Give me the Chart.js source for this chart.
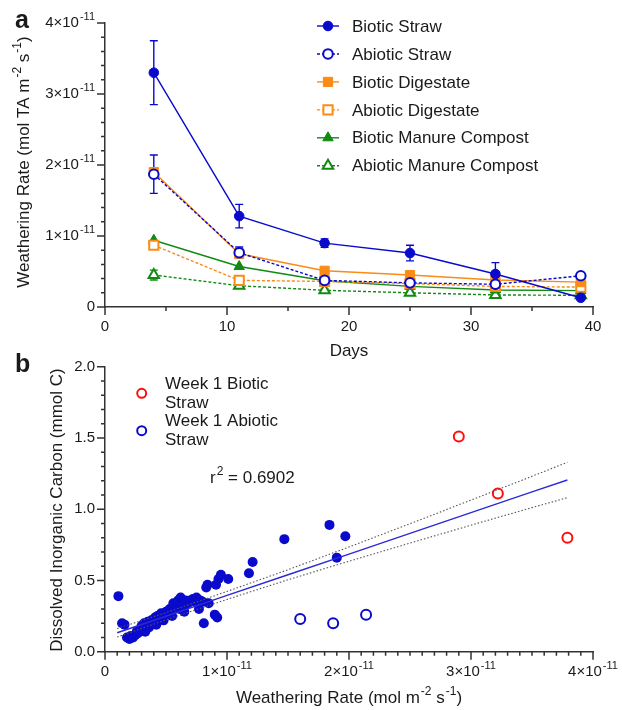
<!DOCTYPE html>
<html>
<head>
<meta charset="utf-8">
<script src="https://cdn.jsdelivr.net/npm/chart.js@4.4.1/dist/chart.umd.min.js"></script>
<style>
    html, body { margin: 0; padding: 0; background: #fff; }
    #wrap { position: relative; width: 622px; height: 710px; overflow: hidden; }
    #topWrap { position: absolute; left: 0; top: 0; width: 622px; height: 365px; }
    #botWrap { position: absolute; left: 0; top: 335px; width: 622px; height: 375px; }
</style>
</head>
<body>
<div id="wrap">
    <div id="topWrap"><canvas id="rateChart"></canvas></div>
    <div id="botWrap"><canvas id="dicChart"></canvas></div>
</div>
<script>
// ---- Panel a: weathering rate over time (values in units of 1e-11 mol TA m-2 s-1) ----
const days = [4, 11, 18, 25, 32, 39];
const bioticStraw = [3.30, 1.28, 0.90, 0.76, 0.465, 0.13];
const bioticStrawErr = [0.45, 0.165, 0.06, 0.11, 0.16, 0.03];
const abioticStraw = [1.87, 0.765, 0.375, 0.34, 0.32, 0.44];
const abioticStrawErr = [0.27, 0.08, 0.04, 0.03, 0.03, 0.03];
const bioticDigestate = [1.90, 0.75, 0.51, 0.45, 0.38, 0.35];
const abioticDigestate = [0.87, 0.375, 0.36, 0.33, 0.29, 0.28];
const bioticManure = [0.94, 0.57, 0.37, 0.29, 0.24, 0.23];
const abioticManure = [0.45, 0.30, 0.235, 0.20, 0.17, 0.165];
const abioticManureErr = [0.07, 0.03, 0.02, 0.02, 0.02, 0.02];

const rateYTicks = [0, 1, 2, 3, 4];
const rateYTickLabels = ['0', '1×10^{-11}', '2×10^{-11}', '3×10^{-11}', '4×10^{-11}'];
const dayTicks = [0, 10, 20, 30, 40];
const dayTickLabels = ['0', '10', '20', '30', '40'];

// ---- Panel b: DIC vs weathering rate (x in units of 1e-11 mol m-2 s-1) ----
const otherX = [0.11, 0.14, 0.16, 0.18, 0.20, 0.21, 0.23, 0.25, 0.26, 0.27, 0.28, 0.30, 0.31, 0.32, 0.33,
    0.34, 0.35, 0.36, 0.37, 0.38, 0.40, 0.41, 0.42, 0.43, 0.44, 0.46, 0.47, 0.48, 0.50, 0.51, 0.53, 0.54,
    0.55, 0.56, 0.58, 0.60, 0.61, 0.62, 0.64, 0.65, 0.66, 0.68, 0.70, 0.72, 0.74, 0.75, 0.77, 0.78, 0.80,
    0.81, 0.83, 0.84, 0.85, 0.90, 0.91, 0.92, 0.93, 0.95, 1.01, 1.18, 1.21, 1.47, 1.84, 1.90, 1.97];
const otherY = [0.39, 0.20, 0.19, 0.10, 0.09, 0.11, 0.10, 0.12, 0.14, 0.13, 0.15, 0.18, 0.16, 0.20, 0.14,
    0.19, 0.21, 0.17, 0.20, 0.22, 0.21, 0.24, 0.19, 0.25, 0.22, 0.27, 0.24, 0.22, 0.28, 0.26, 0.30, 0.27,
    0.25, 0.34, 0.32, 0.36, 0.30, 0.38, 0.33, 0.28, 0.36, 0.34, 0.36, 0.37, 0.35, 0.38, 0.30, 0.36, 0.35,
    0.20, 0.45, 0.47, 0.34, 0.26, 0.47, 0.24, 0.51, 0.54, 0.51, 0.55, 0.63, 0.79, 0.89, 0.66, 0.81];
const week1BioticX = [2.90, 3.22, 3.79];
const week1BioticY = [1.51, 1.11, 0.80];
const week1AbioticX = [1.60, 1.87, 2.14];
const week1AbioticY = [0.23, 0.20, 0.26];

const fitX = [0.1, 0.5, 1.0, 1.5, 2.0, 2.5, 3.0, 3.5, 3.79];
const fitY = [0.133, 0.249, 0.395, 0.540, 0.685, 0.830, 0.976, 1.121, 1.205];
const fitUpper = [0.163, 0.274, 0.423, 0.575, 0.735, 0.898, 1.064, 1.231, 1.329];
const fitLower = [0.103, 0.224, 0.367, 0.505, 0.635, 0.762, 0.888, 1.011, 1.081];

const dicYTicks = [0, 0.5, 1.0, 1.5, 2.0];
const dicYTickLabels = ['0.0', '0.5', '1.0', '1.5', '2.0'];
const rateXTicks = [0, 1, 2, 3, 4];
const rateXTickLabels = ['0', '1×10^{-11}', '2×10^{-11}', '3×10^{-11}', '4×10^{-11}'];

const FONT = 'Arial, "Liberation Sans", sans-serif';
const TEXT = '#1a1a1a';
const AXIS = '#333';
const BLUE = '#0a0acc';
const ORANGE = '#fa8c16';
const GREEN = '#128a12';
const RED = '#ff0d0d';

Chart.defaults.font.family = FONT;

// Draw text where ^{...} parts are superscripts
function drawRich(ctx, str, x, y, size, align) {
    const parts = [];
    const re = /\^\{([^}]*)\}/g;
    let last = 0, m;
    while ((m = re.exec(str)) !== null) {
        if (m.index > last) parts.push({ t: str.slice(last, m.index), sup: false });
        parts.push({ t: m[1], sup: true });
        last = re.lastIndex;
    }
    if (last < str.length) parts.push({ t: str.slice(last), sup: false });

    const supSize = Math.round(size * 0.7);
    let total = 0;
    parts.forEach(p => {
        ctx.font = (p.sup ? supSize : size) + 'px ' + FONT;
        p.w = ctx.measureText(p.t).width + (p.sup ? 1 : 0);
        total += p.w;
    });
    let cx = x;
    if (align === 'center') cx = x - total / 2;
    if (align === 'right') cx = x - total;
    ctx.textBaseline = 'middle';
    ctx.textAlign = 'left';
    parts.forEach(p => {
        ctx.font = (p.sup ? supSize : size) + 'px ' + FONT;
        ctx.fillText(p.t, cx + (p.sup ? 1 : 0), p.sup ? y - size * 0.38 : y);
        cx += p.w;
    });
}

// Axis ticks, tick labels and titles drawn through the chart scales
const axisDecor = {
    id: 'axisDecor',
    afterDraw(chart, args, o) {
        const ctx = chart.ctx;
        const xs = chart.scales.x, ys = chart.scales.y;
        const area = chart.chartArea;
        ctx.save();
        ctx.strokeStyle = AXIS;
        ctx.lineWidth = 1.5;
        ctx.beginPath();
        o.yMinor.forEach(v => { const p = ys.getPixelForValue(v); ctx.moveTo(area.left - 4, p); ctx.lineTo(area.left, p); });
        o.yMajor.forEach(v => { const p = ys.getPixelForValue(v); ctx.moveTo(area.left - 8, p); ctx.lineTo(area.left, p); });
        o.xMinor.forEach(v => { const p = xs.getPixelForValue(v); ctx.moveTo(p, area.bottom); ctx.lineTo(p, area.bottom + 4); });
        o.xMajor.forEach(v => { const p = xs.getPixelForValue(v); ctx.moveTo(p, area.bottom); ctx.lineTo(p, area.bottom + 8); });
        ctx.stroke();

        ctx.fillStyle = TEXT;
        o.yMajor.forEach((v, i) => drawRich(ctx, o.yLabels[i], area.left - 10, ys.getPixelForValue(v), 15, 'right'));
        o.xMajor.forEach((v, i) => drawRich(ctx, o.xLabels[i], xs.getPixelForValue(v), area.bottom + 20, 15, 'center'));

        drawRich(ctx, o.xTitle, (area.left + area.right) / 2, o.xTitleY, 17, 'center');
        ctx.save();
        ctx.translate(o.yTitleX, o.yTitleY);
        ctx.rotate(-Math.PI / 2);
        drawRich(ctx, o.yTitle, 0, 0, 17, 'center');
        ctx.restore();

        ctx.font = 'bold 25px ' + FONT;
        ctx.textBaseline = 'alphabetic';
        ctx.fillText(o.panel, 15, o.panelY);
        ctx.restore();
    }
};

// Error bars for panel a
const errorBars = {
    id: 'errorBars',
    beforeDatasetsDraw(chart) {
        const ctx = chart.ctx;
        ctx.save();
        chart.data.datasets.forEach(ds => {
            if (!ds.errors) return;
            ctx.strokeStyle = ds.borderColor;
            ctx.lineWidth = 1.4;
            ctx.setLineDash([]);
            ds.data.forEach((pt, i) => {
                const x = chart.scales.x.getPixelForValue(pt.x);
                const y1 = chart.scales.y.getPixelForValue(pt.y + ds.errors[i]);
                const y2 = chart.scales.y.getPixelForValue(pt.y - ds.errors[i]);
                ctx.beginPath();
                ctx.moveTo(x, y1); ctx.lineTo(x, y2);
                ctx.moveTo(x - 4, y1); ctx.lineTo(x + 4, y1);
                ctx.moveTo(x - 4, y2); ctx.lineTo(x + 4, y2);
                ctx.stroke();
            });
        });
        ctx.restore();
    }
};

// Legend with line sample and marker for panel a
const lineLegend = {
    id: 'lineLegend',
    afterDraw(chart) {
        const ctx = chart.ctx;
        ctx.save();
        chart.data.datasets.forEach((ds, i) => {
            const y = 26 + i * 27.95;
            ctx.strokeStyle = ds.borderColor;
            ctx.lineWidth = 1.4;
            ctx.setLineDash(ds.borderDash || []);
            ctx.beginPath();
            ctx.moveTo(317, y); ctx.lineTo(339, y);
            ctx.stroke();
            ctx.setLineDash([]);
            Chart.helpers.drawPoint(ctx, {
                pointStyle: ds.pointStyle, radius: ds.pointRadius, borderWidth: ds.pointBorderWidth
            }, 328, y);
            ctx.fillStyle = ds.pointBackgroundColor;
            ctx.strokeStyle = ds.borderColor;
            ctx.lineWidth = ds.pointBorderWidth;
            ctx.beginPath();
            ctx.restore(); ctx.save();
            ctx.fillStyle = TEXT;
            ctx.font = '17px ' + FONT;
            ctx.textBaseline = 'middle';
            ctx.fillText(ds.label, 352, y + 1);
        });
        ctx.restore();
    }
};

function series(values, label, color, style, open, dashed, errs) {
    return {
        label: label,
        data: days.map((d, i) => ({ x: d, y: values[i] })),
        errors: errs || null,
        borderColor: color,
        backgroundColor: open ? '#fff' : color,
        pointBackgroundColor: open ? '#fff' : color,
        pointBorderColor: color,
        pointBorderWidth: open ? 2 : 1,
        pointStyle: style,
        pointRadius: style === 'rect' ? 6.5 : (style === 'triangle' ? 6 : 4.8),
        borderWidth: 1.4,
        borderDash: dashed ? [3, 2] : [],
        tension: 0,
        fill: false
    };
}

function drawLegendPoint(ctx, ds, x, y) {
    ctx.fillStyle = ds.pointBackgroundColor;
    ctx.strokeStyle = ds.pointBorderColor;
    ctx.lineWidth = ds.pointBorderWidth;
    Chart.helpers.drawPoint(ctx, { pointStyle: ds.pointStyle, radius: ds.pointRadius, borderWidth: ds.pointBorderWidth }, x, y);
}

// fix legend marker colours: draw markers with proper styles
lineLegend.afterDraw = function (chart) {
    const ctx = chart.ctx;
    chart.data.datasets.forEach((ds, i) => {
        const y = 26 + i * 27.95;
        ctx.save();
        ctx.strokeStyle = ds.borderColor;
        ctx.lineWidth = 1.4;
        ctx.setLineDash(ds.borderDash || []);
        ctx.beginPath();
        ctx.moveTo(317, y); ctx.lineTo(339, y);
        ctx.stroke();
        ctx.setLineDash([]);
        drawLegendPoint(ctx, ds, 328, y);
        ctx.fillStyle = TEXT;
        ctx.font = '17px ' + FONT;
        ctx.textBaseline = 'middle';
        ctx.textAlign = 'left';
        ctx.fillText(ds.label, 352, y + 1);
        ctx.restore();
    });
};

function createRateChart() {
    const ctx = document.getElementById('rateChart').getContext('2d');
    return new Chart(ctx, {
        type: 'line',
        data: {
            datasets: [
                series(bioticStraw, 'Biotic Straw', BLUE, 'circle', false, false, bioticStrawErr),
                series(abioticStraw, 'Abiotic Straw', BLUE, 'circle', true, true, abioticStrawErr),
                series(bioticDigestate, 'Biotic Digestate', ORANGE, 'rect', false, false),
                series(abioticDigestate, 'Abiotic Digestate', ORANGE, 'rect', true, true),
                series(bioticManure, 'Biotic Manure Compost', GREEN, 'triangle', false, false),
                series(abioticManure, 'Abiotic Manure Compost', GREEN, 'triangle', true, true, abioticManureErr)
            ]
        },
        options: {
            responsive: true, maintainAspectRatio: false, animation: false, devicePixelRatio: 1,
            layout: { padding: { left: 105, right: 29, top: 23, bottom: 58 } },
            scales: {
                x: {
                    type: 'linear', min: 0, max: 40,
                    ticks: { display: false }, grid: { display: false, drawTicks: false },
                    border: { display: true, color: AXIS, width: 1.5 }
                },
                y: {
                    type: 'linear', min: 0, max: 4,
                    ticks: { display: false }, grid: { display: false, drawTicks: false },
                    border: { display: true, color: AXIS, width: 1.5 }
                }
            },
            plugins: {
                legend: { display: false },
                tooltip: { enabled: false },
                axisDecor: {
                    yMajor: rateYTicks, yLabels: rateYTickLabels,
                    yMinor: [0.2, 0.4, 0.6, 0.8, 1.2, 1.4, 1.6, 1.8, 2.2, 2.4, 2.6, 2.8, 3.2, 3.4, 3.6, 3.8],
                    xMajor: dayTicks, xLabels: dayTickLabels, xMinor: [5, 15, 25, 35],
                    xTitle: 'Days', xTitleY: 351,
                    yTitle: 'Weathering Rate (mol TA m^{-2} s^{-1})', yTitleX: 24, yTitleY: 162,
                    panel: 'a', panelY: 28
                }
            }
        },
        plugins: [errorBars, axisDecor, lineLegend]
    });
}

// Legend and r² label for panel b
const scatterNotes = {
    id: 'scatterNotes',
    afterDraw(chart) {
        const ctx = chart.ctx;
        ctx.save();
        ctx.lineWidth = 2;
        [[RED, 58.3], [BLUE, 95.7]].forEach(([c, y]) => {
            ctx.strokeStyle = c;
            ctx.beginPath();
            ctx.arc(141.7, y, 4.5, 0, Math.PI * 2);
            ctx.stroke();
        });
        ctx.fillStyle = TEXT;
        ctx.font = '17px ' + FONT;
        ctx.textBaseline = 'middle';
        ctx.textAlign = 'left';
        ctx.fillText('Week 1 Biotic', 165, 49);
        ctx.fillText('Straw', 165, 68);
        ctx.fillText('Week 1 Abiotic', 165, 86.5);
        ctx.fillText('Straw', 165, 105.5);
        drawRich(ctx, 'r^{2} = 0.6902', 210, 143, 17, 'left');
        ctx.restore();
    }
};

function pts(xs, ys) { return xs.map((x, i) => ({ x: x, y: ys[i] })); }

function createDicChart() {
    const ctx = document.getElementById('dicChart').getContext('2d');
    return new Chart(ctx, {
        type: 'scatter',
        data: {
            datasets: [
                { label: 'fit', data: pts(fitX, fitY), showLine: true, pointRadius: 0, borderColor: '#2a2ad6', borderWidth: 1.4, order: 0 },
                { label: 'upper', data: pts(fitX, fitUpper), showLine: true, pointRadius: 0, borderColor: '#555', borderWidth: 1.1, borderDash: [1.5, 2], order: 0 },
                { label: 'lower', data: pts(fitX, fitLower), showLine: true, pointRadius: 0, borderColor: '#555', borderWidth: 1.1, borderDash: [1.5, 2], order: 0 },
                { label: 'Week 1 Biotic Straw', data: pts(week1BioticX, week1BioticY), pointRadius: 5, pointBorderWidth: 2, borderColor: RED, backgroundColor: '#fff', order: 2 },
                { label: 'Week 1 Abiotic Straw', data: pts(week1AbioticX, week1AbioticY), pointRadius: 5, pointBorderWidth: 2, borderColor: BLUE, backgroundColor: '#fff', order: 2 },
                { label: 'Other', data: pts(otherX, otherY), pointRadius: 5, pointBorderWidth: 0, borderColor: BLUE, backgroundColor: BLUE, order: 3 }
            ]
        },
        options: {
            responsive: true, maintainAspectRatio: false, animation: false, devicePixelRatio: 1,
            layout: { padding: { left: 105, right: 29, top: 31.7, bottom: 58.3 } },
            scales: {
                x: {
                    type: 'linear', min: 0, max: 4,
                    ticks: { display: false }, grid: { display: false, drawTicks: false },
                    border: { display: true, color: AXIS, width: 1.5 }
                },
                y: {
                    type: 'linear', min: 0, max: 2,
                    ticks: { display: false }, grid: { display: false, drawTicks: false },
                    border: { display: true, color: AXIS, width: 1.5 }
                }
            },
            plugins: {
                legend: { display: false },
                tooltip: { enabled: false },
                axisDecor: {
                    yMajor: dicYTicks, yLabels: dicYTickLabels,
                    yMinor: [0.1, 0.2, 0.3, 0.4, 0.6, 0.7, 0.8, 0.9, 1.1, 1.2, 1.3, 1.4, 1.6, 1.7, 1.8, 1.9],
                    xMajor: rateXTicks, xLabels: rateXTickLabels,
                    xMinor: [0.1, 0.2, 0.3, 0.4, 0.5, 0.6, 0.7, 0.8, 0.9, 1.1, 1.2, 1.3, 1.4, 1.5, 1.6, 1.7, 1.8, 1.9,
                        2.1, 2.2, 2.3, 2.4, 2.5, 2.6, 2.7, 2.8, 2.9, 3.1, 3.2, 3.3, 3.4, 3.5, 3.6, 3.7, 3.8, 3.9],
                    xTitle: 'Weathering Rate (mol m^{-2} s^{-1})', xTitleY: 363,
                    yTitle: 'Dissolved Inorganic Carbon (mmol C)', yTitleX: 57, yTitleY: 175,
                    panel: 'b', panelY: 37
                }
            }
        },
        plugins: [axisDecor, scatterNotes]
    });
}

document.addEventListener('DOMContentLoaded', () => {
    createRateChart();
    createDicChart();
});
</script>
</body>
</html>
